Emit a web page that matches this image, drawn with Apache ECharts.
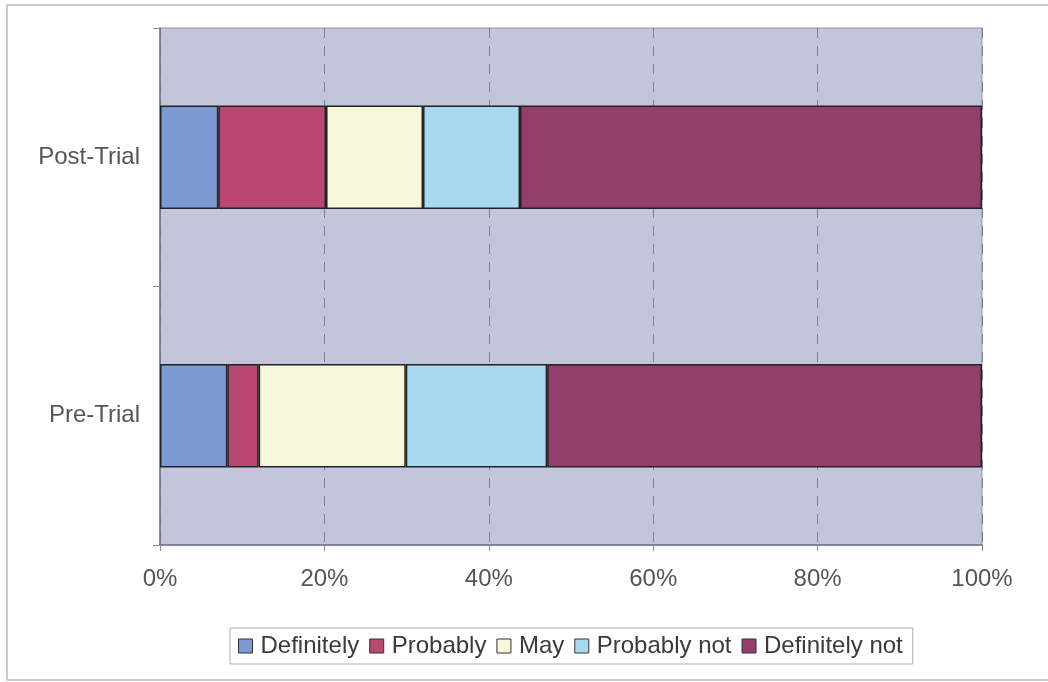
<!DOCTYPE html>
<html>
<head>
<meta charset="utf-8">
<script src="https://cdn.jsdelivr.net/npm/echarts@6/dist/echarts.min.js"></script>
<style>
  html, body { margin: 0; padding: 0; background: #ffffff; }
  #chart { width: 1048px; height: 682px; }
</style>
</head>
<body>
<div id="chart"></div>
<script>
// Survey groups, bottom to top
const categories = ['Pre-Trial', 'Post-Trial'];

// Percentage of respondents for each answer
const definitely    = [8.2, 7.1];
const probably      = [3.8, 13.1];
const may           = [17.9, 11.8];
const probablyNot   = [17.2, 11.8];
const definitelyNot = [52.9, 56.2];

const xTicks = [0, 20, 40, 60, 80, 100];

const seriesDefs = [
  { name: 'Definitely',     data: definitely,    color: '#7B9AD3' },
  { name: 'Probably',       data: probably,      color: '#B84870' },
  { name: 'May',            data: may,           color: '#F7F7DC' },
  { name: 'Probably not',   data: probablyNot,   color: '#A9D9F1' },
  { name: 'Definitely not', data: definitelyNot, color: '#943F6B' }
];

const chart = echarts.init(document.getElementById('chart'), null, { renderer: 'canvas' });

const font = 'Liberation Sans, Arial, sans-serif';

chart.setOption({
  animation: false,
  backgroundColor: '#ffffff',
  graphic: [
    {
      type: 'polyline',
      shape: { points: [[1048, 5], [7, 5], [7, 680], [1048, 680]] },
      style: { stroke: '#B8BCC8', lineWidth: 1.5, fill: null },
      silent: true
    }
  ],
  grid: {
    left: 160, right: 66, top: 28, bottom: 137,
    show: true,
    backgroundColor: '#C3C6DB',
    borderColor: '#8E93AE',
    borderWidth: 1
  },
  legend: {
    bottom: 18,
    left: 230,
    itemWidth: 14,
    itemHeight: 14,
    itemGap: 10,
    padding: [6, 10, 6, 8],
    borderColor: '#A8ACBA',
    borderWidth: 1,
    borderRadius: 0,
    backgroundColor: '#ffffff',
    icon: 'rect',
    textStyle: { color: '#3A3A3A', fontSize: 24, fontFamily: font, padding: [0, 0, 0, 3] },
    data: seriesDefs.map(s => ({
      name: s.name,
      itemStyle: { color: s.color, borderColor: '#333', borderWidth: 1 }
    }))
  },
  xAxis: {
    type: 'value',
    min: 0,
    max: 100,
    interval: 20,
    axisLine: { show: true, lineStyle: { color: '#6E7390', width: 1.5 } },
    axisTick: { show: true, length: 6, lineStyle: { color: '#888' } },
    axisLabel: {
      color: '#555', fontSize: 24, fontFamily: font, margin: 22,
      formatter: v => (xTicks.includes(v) ? v + '%' : '')
    },
    splitLine: { show: true, lineStyle: { color: '#7C8098', type: [10, 8], width: 1 } }
  },
  yAxis: {
    type: 'category',
    data: categories,
    axisLine: { show: true, lineStyle: { color: '#6E7390', width: 1.5 } },
    axisTick: { show: true, length: 7, lineStyle: { color: '#888' } },
    axisLabel: { color: '#555', fontSize: 24, fontFamily: font, margin: 20 }
  },
  series: seriesDefs.map(s => ({
    name: s.name,
    type: 'bar',
    stack: 'total',
    barWidth: '40%',
    data: s.data,
    itemStyle: { color: s.color, borderColor: '#222', borderWidth: 1.5 }
  }))
});
</script>
</body>
</html>
